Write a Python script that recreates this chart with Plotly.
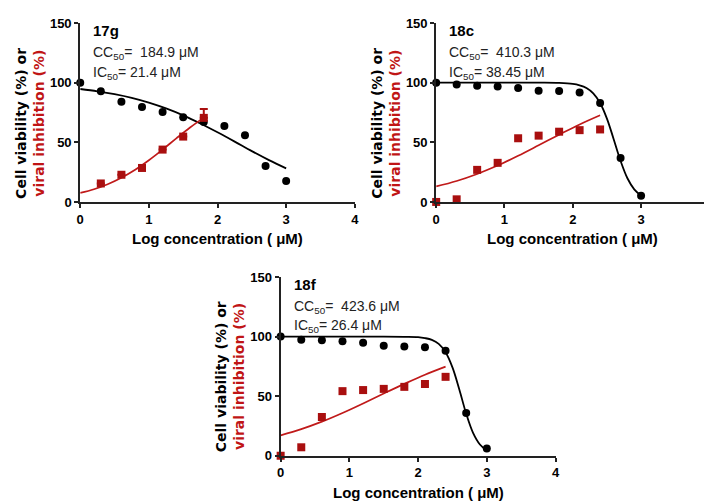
import plotly.graph_objects as go

# ---------------- data ----------------
log_conc = [0, 0.3, 0.6, 0.9, 1.2, 1.5, 1.8, 2.1, 2.4, 2.7, 3.0]

# 17g
g17_viab = [100, 92.8, 84.1, 79.7, 75.4, 71.1, 67.0, 63.7, 55.9, 30.1, 17.6]
g17_inh_x = [0.3, 0.6, 0.9, 1.2, 1.5, 1.8]
g17_inh = [15.5, 22.8, 28.5, 43.9, 54.8, 70.5]
g17_inh_err = [0, 0, 0, 0, 0, 7.5]
g17_viab_fit_x = [0, 0.25, 0.5, 0.75, 1.0, 1.25, 1.5, 1.75, 2.0, 2.25, 2.5, 2.75, 3.0]
g17_viab_fit = [94.7, 92.8, 90.4, 87.3, 83.3, 78.4, 72.6, 65.8, 58.4, 50.6, 42.6, 35.1, 28.2]
g17_inh_fit_x = [0, 0.2, 0.4, 0.6, 0.8, 1.0, 1.2, 1.4, 1.6, 1.8]
g17_inh_fit = [7.6, 10.7, 14.9, 20.3, 27.0, 35.0, 43.9, 53.3, 62.4, 70.7]

# 18c
c18_viab = [100, 98.5, 97.4, 96.8, 95.5, 93.3, 93.0, 91.7, 83.0, 36.9, 5.2]
c18_inh_x = [0, 0.3, 0.6, 0.9, 1.2, 1.5, 1.8, 2.1, 2.4]
c18_inh = [0, 2.2, 26.9, 32.8, 53.4, 55.6, 58.9, 60.2, 60.8]
c18_viab_fit_x = [0, 0.5, 1.0, 1.5, 1.8, 2.0, 2.1, 2.2, 2.3, 2.4, 2.5, 2.6, 2.7, 2.8, 2.9, 3.0]
c18_viab_fit = [100, 100, 100, 100, 99.8, 99.0, 97.8, 95.6, 91.1, 83.0, 69.9, 52.4, 34.4, 19.9, 10.6, 5.3]
c18_inh_fit_x = [0, 0.3, 0.6, 0.9, 1.2, 1.5, 1.8, 2.1, 2.4]
c18_inh_fit = [13.0, 17.6, 23.5, 30.5, 38.7, 47.5, 56.4, 65.0, 72.7]

# 18f
f18_viab = [100, 97.4, 96.8, 96.0, 94.7, 92.2, 91.7, 91.1, 88.1, 35.8, 6.0]
f18_inh_x = [0, 0.3, 0.6, 0.9, 1.2, 1.5, 1.8, 2.1, 2.4]
f18_inh = [0, 7.1, 32.5, 54.2, 55.1, 56.1, 57.8, 60.2, 66.2]
f18_viab_fit_x = [0, 0.5, 1.0, 1.5, 1.8, 2.0, 2.1, 2.2, 2.3, 2.4, 2.5, 2.6, 2.7, 2.8, 2.9, 3.0]
f18_viab_fit = [100, 100, 100, 100, 99.8, 99.5, 98.7, 97.2, 93.8, 86.8, 74.1, 55.6, 35.3, 19.2, 9.4, 4.3]
f18_inh_fit_x = [0, 0.3, 0.6, 0.9, 1.2, 1.5, 1.8, 2.1, 2.4]
f18_inh_fit = [17.1, 22.3, 28.6, 35.9, 43.9, 52.2, 60.3, 68.0, 74.8]

titles = ["17g", "18c", "18f"]
cc50 = ["184.9", "410.3", "423.6"]
ic50 = ["21.4", "38.45", "26.4"]
x_ticks = [0, 1, 2, 3, 4]
y_ticks = [0, 50, 100, 150]

# ---------------- layout geometry ----------------
W, H = 712, 503
RED_LINE = "#c01a1a"
RED_MK = "#a90f0f"
RED_TXT = "#c01515"
FONT = "Liberation Sans, Arial, sans-serif"
YFONT = "DejaVu Sans, Verdana, sans-serif"

# plot areas in pixels: (x0, x1, ytop, ybottom)
panels = [
    (69.0, 346.7, 8.3, 192.7),
    (429.0, 705.3, 8.3, 192.7),
    (271.7, 549.7, 270.0, 454.3),
]

fig = go.Figure()

datasets = [
    (g17_viab, g17_inh_x, g17_inh, g17_inh_err, g17_viab_fit_x, g17_viab_fit, g17_inh_fit_x, g17_inh_fit),
    (c18_viab, c18_inh_x, c18_inh, None, c18_viab_fit_x, c18_viab_fit, c18_inh_fit_x, c18_inh_fit),
    (f18_viab, f18_inh_x, f18_inh, None, f18_viab_fit_x, f18_viab_fit, f18_inh_fit_x, f18_inh_fit),
]

for i, (px, ds) in enumerate(zip(panels, datasets)):
    x0, x1, yt, yb = px
    n = "" if i == 0 else str(i + 1)
    xa, ya = "x" + n, "y" + n
    viab, ix, iv, ierr, vfx, vfy, ifx, ify = ds

    fig.add_trace(go.Scatter(x=vfx, y=vfy, mode="lines", line=dict(color="black", width=1.8, shape="spline"),
                             xaxis=xa, yaxis=ya, showlegend=False, cliponaxis=False, hoverinfo="skip"))
    fig.add_trace(go.Scatter(x=ifx, y=ify, mode="lines", line=dict(color=RED_LINE, width=1.7, shape="spline"),
                             xaxis=xa, yaxis=ya, showlegend=False, cliponaxis=False, hoverinfo="skip"))
    fig.add_trace(go.Scatter(x=log_conc, y=viab, mode="markers",
                             marker=dict(symbol="circle", size=8, color="black"),
                             xaxis=xa, yaxis=ya, showlegend=False, cliponaxis=False))
    err = None
    if ierr is not None:
        err = dict(type="data", array=ierr, arrayminus=[0] * len(ierr), color=RED_MK, thickness=2, width=4)
    fig.add_trace(go.Scatter(x=ix, y=iv, mode="markers",
                             marker=dict(symbol="square", size=8, color=RED_MK),
                             error_y=err,
                             xaxis=xa, yaxis=ya, showlegend=False, cliponaxis=False))

    dom_x = [x0 / W, x1 / W]
    dom_y = [1 - yb / H, 1 - yt / H]
    common = dict(showgrid=False, zeroline=False, showline=True, linecolor="#222222", linewidth=2,
                  ticks="outside", ticklen=4, tickwidth=2, tickcolor="#222222",
                  tickfont=dict(family=FONT, size=13, color="black", weight="bold"))
    fig.update_layout(**{
        ("xaxis" + n): dict(domain=dom_x, range=[0, 4], tickvals=x_ticks, anchor=ya, **common),
        ("yaxis" + n): dict(domain=dom_y, range=[0, 150], tickvals=y_ticks, anchor=xa, **common),
    })

    # panel title and values
    tx = (x0 + 11) / W
    fig.add_annotation(x=tx, y=1 - (yt + 8) / H, xref="paper", yref="paper", xanchor="left", yanchor="middle",
                       text="<b>%s</b>" % titles[i], showarrow=False,
                       font=dict(family=FONT, size=15, color="black"))
    fig.add_annotation(x=tx, y=1 - (yt + 31) / H, xref="paper", yref="paper", xanchor="left", yanchor="middle",
                       text="CC<sub>50</sub>=  %s μM" % cc50[i], showarrow=False,
                       font=dict(family=FONT, size=14, color="#222222"))
    fig.add_annotation(x=tx, y=1 - (yt + 51) / H, xref="paper", yref="paper", xanchor="left", yanchor="middle",
                       text="IC<sub>50</sub>= %s μM" % ic50[i], showarrow=False,
                       font=dict(family=FONT, size=14, color="#222222"))
    # x title
    fig.add_annotation(x=(x0 + x1) / 2 / W, y=1 - (yb + 37.5) / H, xref="paper", yref="paper",
                       xanchor="center", yanchor="middle",
                       text="<b>Log concentration ( μM)</b>", showarrow=False,
                       font=dict(family=FONT, size=15, color="black"))
    # y title (two lines)
    ymid = 1 - (yt + 103) / H
    fig.add_annotation(x=(x0 - 60) / W, y=ymid, xref="paper", yref="paper", xanchor="center", yanchor="middle",
                       text="<b>Cell viability (%) or</b>", textangle=-90, showarrow=False,
                       font=dict(family=YFONT, size=14, color="black"))
    fig.add_annotation(x=(x0 - 42) / W, y=ymid, xref="paper", yref="paper", xanchor="center", yanchor="middle",
                       text="<b>viral inhibition (%)</b>", textangle=-90, showarrow=False,
                       font=dict(family=YFONT, size=14, color=RED_TXT))

fig.update_layout(width=W, height=H, margin=dict(l=0, r=0, t=0, b=0),
                  paper_bgcolor="white", plot_bgcolor="white")

fig.write_html("out.html")
